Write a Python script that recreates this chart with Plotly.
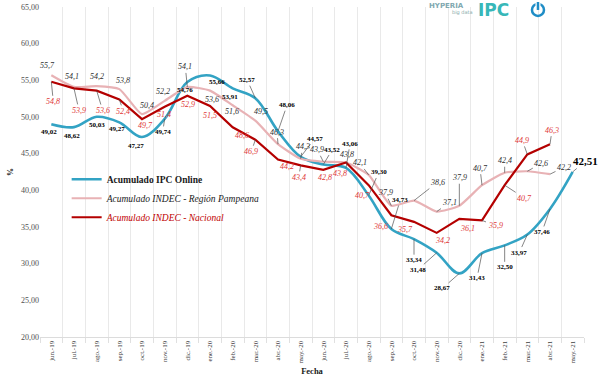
import plotly.graph_objects as go

months = ["jun.-19", "jul.-19", "ago.-19", "sep.-19", "oct.-19", "nov.-19", "dic.-19",
          "ene.-20", "feb.-20", "mar.-20", "abr.-20", "may.-20", "jun.-20", "jul.-20",
          "ago.-20", "sep.-20", "oct.-20", "nov.-20", "dic.-20", "ene.-21", "feb.-21",
          "mar.-21", "abr.-21", "may.-21"]

ipc_online = [49.02, 48.62, 50.03, 49.27, 47.27, 49.74, 54.76, 55.66, 53.91, 52.57, 48.06, 44.57,
              43.52, 43.06, 39.30, 34.73, 33.34, 31.48, 28.67, 31.43, 32.50, 33.97, 37.46, 42.51]

indec_pampeana = [55.7, 54.1, 54.2, 53.8, 50.4, 52.2, 54.1, 53.6, 51.6, 49.5, 46.3, 44.3,
                  43.9, 43.8, 42.1, 37.9, 38.6, 37.1, 37.9, 40.7, 42.4, 42.6, 42.2]

indec_nacional = [54.8, 53.9, 53.6, 52.4, 49.7, 51.4, 52.9, 51.5, 48.6, 46.9, 44.2, 43.4,
                  42.8, 43.8, 40.7, 36.6, 35.7, 34.2, 36.1, 35.9, 40.7, 44.9, 46.3]

y_ticks = [20, 25, 30, 35, 40, 45, 50, 55, 60, 65]

# label offsets (pixels, dx right, dy down) -- styling only
off_ipc = [(-2, 8), (-2, 9), (0, 8), (-2, 7), (-6, 9), (-2, 13), (-2, 8), (7, 7), (-3, 9),
           (-8, -18), (9, -26), (14, -18), (9, -15), (4, -24), (10, -23), (9, -29), (0, 21),
           (-19, 17), (-17, 15), (-5, 25), (0, 22), (-8, 18), (-8, 23), (13, -11)]
off_pam = [(-4, -10), (-2, -10), (0, -10), (4, -9), (5, -9), (-2, -9), (-2, -20), (2, 9),
           (-1, 6), (6, -9), (-1, -12), (2, -12), (-6, -12), (1, -8), (-9, -12), (-6, -13),
           (23, -18), (13, -9), (0, -28), (-2, -17), (0, -12), (14, -8), (14, -7)]
off_nac = [(2, 20), (5, 22), (6, 20), (4, 12), (3, 6), (-1, 8), (1, 9), (0, 9), (9, 8),
           (-4, 12), (9, 7), (-2, 12), (2, 8), (-6, 11), (-6, 10), (-11, 11), (-9, 8), (6, 8),
           (8, 10), (13, 5), (20, 13), (-5, -14), (2, -14)]

SERIF = "Liberation Serif"
TEAL = "#33a3c4"
PINK = "#e8b2b5"
RED = "#b40000"
RED_TXT = "#e03838"

fig = go.Figure()
fig.add_trace(go.Scatter(x=months, y=ipc_online, mode="lines",
                         name="<b>Acumulado IPC Online</b>",
                         line=dict(color=TEAL, width=2.6, shape="spline", smoothing=1.0)))
fig.add_trace(go.Scatter(x=months[:len(indec_pampeana)], y=indec_pampeana, mode="lines",
                         name="<i>Acumulado INDEC - Región Pampeana</i>",
                         line=dict(color=PINK, width=2.2, shape="spline", smoothing=0.5)))
fig.add_trace(go.Scatter(x=months[:len(indec_nacional)], y=indec_nacional, mode="lines",
                         name="<i><span style='color:#c00000'>Acumulado INDEC - Nacional</span></i>",
                         line=dict(color=RED, width=2.2)))


def fmt(v, d):
    return f"{v:.{d}f}".replace(".", ",")


def add_labels(xs, ys, offs, dec, font, big_last=False):
    for i, (xv, yv) in enumerate(zip(xs, ys)):
        dx, dy = offs[i]
        f = dict(font)
        if big_last and i == len(ys) - 1:
            f["size"] = 11
        if abs(dx) > 11 or abs(dy) > 11:
            fig.add_annotation(x=xv, y=yv, text=fmt(yv, dec), showarrow=True, ax=dx, ay=dy,
                               arrowhead=0, arrowwidth=0.7, arrowcolor="#505050",
                               standoff=0, startstandoff=0, font=f)
        else:
            fig.add_annotation(x=xv, y=yv, text=fmt(yv, dec), showarrow=False,
                               xshift=dx, yshift=-dy, font=f)


add_labels(months, indec_pampeana, off_pam, 1,
           dict(family=SERIF, size=8, color="#303030", style="italic"))
add_labels(months, indec_nacional, off_nac, 1,
           dict(family=SERIF, size=8, color=RED_TXT, style="italic"))
add_labels(months, ipc_online, off_ipc, 2,
           dict(family=SERIF, size=7, color="#000000", weight="bold"), big_last=True)

# logo
fig.add_annotation(xref="paper", yref="paper", x=0.783, y=1.003, yanchor="middle",
                   text="<b>HYPERIA</b>", showarrow=False,
                   font=dict(family="DejaVu Sans", size=7, color="#7fa8b0"))
fig.add_annotation(xref="paper", yref="paper", x=0.8, y=0.982, yanchor="middle",
                   text="big data", showarrow=False,
                   font=dict(family="DejaVu Sans", size=5, color="#8aa"))
fig.add_annotation(xref="paper", yref="paper", x=0.866, y=0.99, yanchor="middle",
                   text="<b>IPC</b>", showarrow=False,
                   font=dict(family="DejaVu Sans", size=17, color="#37b7b8"))
cx, cy, rx, ry = 0.9154, 0.991, 6 / 544, 6 / 330
fig.add_shape(type="circle", xref="paper", yref="paper",
              x0=cx - rx, x1=cx + rx, y0=cy - ry, y1=cy + ry,
              line=dict(color="#1f8dc6", width=2.5))
fig.add_shape(type="rect", xref="paper", yref="paper",
              x0=cx - 2.5 / 544, x1=cx + 2.5 / 544, y0=cy + 2 / 330, y1=cy + 8 / 330,
              line=dict(width=0), fillcolor="white")
fig.add_shape(type="line", xref="paper", yref="paper",
              x0=cx, x1=cx, y0=cy, y1=cy + 8 / 330,
              line=dict(color="#1f8dc6", width=2.5))

fig.update_layout(
    width=600, height=382,
    margin=dict(l=40, r=16, t=7, b=45),
    paper_bgcolor="white", plot_bgcolor="white",
    separators=",.",
    font=dict(family=SERIF, size=8, color="#404040"),
    showlegend=True,
    legend=dict(x=0.049, y=0.522, xanchor="left", yanchor="top",
                bgcolor="rgba(255,255,255,0)", borderwidth=0,
                font=dict(family=SERIF, size=9.5, color="#1a1a1a"),
                itemwidth=30),
    xaxis=dict(type="category", range=[-0.5, 23.5], tickson="boundaries", automargin=False,
               showgrid=True, gridcolor="#e9e9e9", gridwidth=1,
               ticks="outside", ticklen=5, tickcolor="#e0e0e0",
               showline=True, linecolor="#dcdcdc", linewidth=1,
               tickangle=-90, tickfont=dict(family=SERIF, size=7, color="#404040"),
               title=dict(text="<b>Fecha</b>", standoff=5,
                          font=dict(family=SERIF, size=8.5, color="#202020"))),
    yaxis=dict(range=[20, 65], tickvals=y_ticks, tickformat=".2f", showgrid=False,
               automargin=False, zeroline=False, showline=False, ticks="",
               tickfont=dict(family=SERIF, size=8, color="#505050"),
               title=dict(text="<b>%</b>", standoff=6,
                          font=dict(family=SERIF, size=8, color="#202020"))),
)

fig.write_html("out.html", config={"displayModeBar": False},
               post_script="document.body.style.margin='0px';document.body.style.overflow='hidden';")
